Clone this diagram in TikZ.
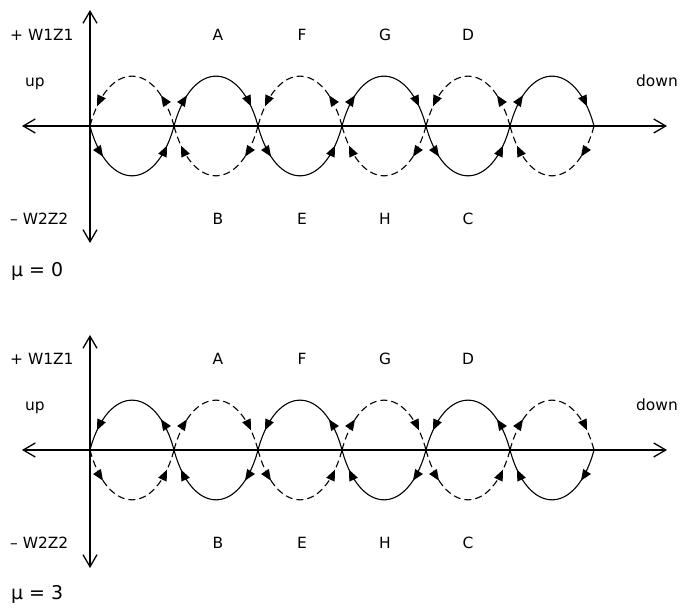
\documentclass[tikz,border=0pt]{standalone}
\usepackage{fontspec}
\setmainfont{DejaVu Sans}
\usepackage{tkz-euclide}
\usetikzlibrary{arrows.meta,decorations.markings}
\tikzset{
  axisline/.style={line width=1.3bp,
    arrows={Straight Barb[length=12bp,width=14bp]-Straight Barb[length=12bp,width=14bp]}},
  lobe/.style={line width=1.1bp,postaction={decorate},
    decoration={markings,
      mark=at position 0.24 with {\arrow{Triangle[length=11bp,width=9bp]}},
      mark=at position 0.85 with {\arrow{Triangle[length=11bp,width=9bp]}}}},
  dashline/.style={dash pattern=on 7bp off 4bp},
  ccwtop/.style={out=105,in=75,looseness=2.1},
  ccwbot/.style={out=-75,in=-105,looseness=2.1},
  cwtop/.style={out=75,in=105,looseness=2.1},
  cwbot/.style={out=-105,in=-75,looseness=2.1},
  lbl/.style={inner sep=0pt,font=\fontsize{15.5}{18}\selectfont},
  mulbl/.style={inner sep=0pt,font=\fontsize{19}{22}\selectfont}
}

\begin{document}
\begin{tikzpicture}[x=1bp,y=1bp]
  \useasboundingbox (0,0) rectangle (681,610);
  \tkzDefPoints{90/484/P0,174/484/P1,258/484/P2,342/484/P3,426/484/P4,510/484/P5,594/484/P6}
  \tkzDefPoints{90/160/Q0,174/160/Q1,258/160/Q2,342/160/Q3,426/160/Q4,510/160/Q5,594/160/Q6}
  \tkzDefPoints{22/484/L1,667/484/R1,90/600/T1,90/367/U1}
  \tkzDefPoints{22/160/L2,667/160/R2,90/275/T2,90/42/U2}
	% mu = 0
	\foreach \a/\b in {0/1,2/3,4/5}{
	  \draw[lobe,dashline] (P\b) to[ccwtop] (P\a);
	  \draw[lobe] (P\a) to[ccwbot] (P\b);}
	\foreach \a/\b in {1/2,3/4,5/6}{
	  \draw[lobe] (P\a) to[cwtop] (P\b);
	  \draw[lobe,dashline] (P\b) to[cwbot] (P\a);}
	% mu = 3
	\foreach \a/\b in {0/1,2/3,4/5}{
	  \draw[lobe] (Q\b) to[ccwtop] (Q\a);
	  \draw[lobe,dashline] (Q\a) to[ccwbot] (Q\b);}
	\foreach \a/\b in {1/2,3/4,5/6}{
	  \draw[lobe,dashline] (Q\a) to[cwtop] (Q\b);
	  \draw[lobe] (Q\b) to[cwbot] (Q\a);}
	\tkzDrawSegments[axisline](L1,R1 T1,U1 L2,R2 T2,U2)
	\node[lbl,anchor=base west] (wz1) at (10,569) {+ W1Z1};
	\node[lbl,anchor=base west] (up1) at (25,523) {up};
	\node[lbl,anchor=base west] (wz2) at (10,385) {– W2Z2};
	\node[lbl,anchor=base east] (dn1) at (678,523) {down};
	\node[mulbl,anchor=base west] (mu1) at (11,333) {μ = 0};
	\node[lbl,anchor=base] (A1) at (218,569) {A};
	\node[lbl,anchor=base] (F1) at (302,569) {F};
	\node[lbl,anchor=base] (G1) at (385,569) {G};
	\node[lbl,anchor=base] (D1) at (468,569) {D};
	\node[lbl,anchor=base] (B1) at (218,385) {B};
	\node[lbl,anchor=base] (E1) at (302,385) {E};
	\node[lbl,anchor=base] (H1) at (385,385) {H};
	\node[lbl,anchor=base] (C1) at (468,385) {C};
	\node[lbl,anchor=base west] (wz3) at (10,245) {+ W1Z1};
	\node[lbl,anchor=base west] (up2) at (25,199) {up};
	\node[lbl,anchor=base west] (wz4) at (10,61) {– W2Z2};
	\node[lbl,anchor=base east] (dn2) at (678,199) {down};
	\node[mulbl,anchor=base west] (mu2) at (11,10) {μ = 3};
	\node[lbl,anchor=base] (A2) at (218,245) {A};
	\node[lbl,anchor=base] (F2) at (302,245) {F};
	\node[lbl,anchor=base] (G2) at (385,245) {G};
	\node[lbl,anchor=base] (D2) at (468,245) {D};
	\node[lbl,anchor=base] (B2) at (218,61) {B};
	\node[lbl,anchor=base] (E2) at (302,61) {E};
	\node[lbl,anchor=base] (H2) at (385,61) {H};
	\node[lbl,anchor=base] (C2) at (468,61) {C};
\end{tikzpicture}
\end{document}
